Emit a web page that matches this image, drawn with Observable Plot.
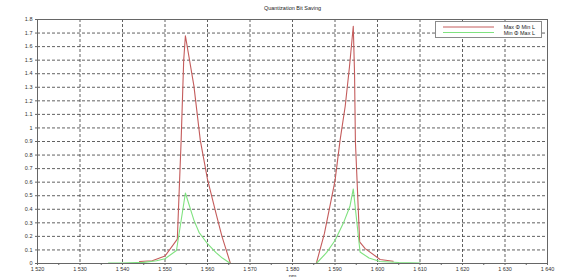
<!DOCTYPE html>
<html><head><meta charset="utf-8">
<script src="https://cdn.jsdelivr.net/npm/d3@7"></script>
<script src="https://cdn.jsdelivr.net/npm/@observablehq/plot@0.6"></script>
<style>
body{margin:0;background:#fff;}
#wrap{position:relative;width:566px;height:277px;overflow:hidden;font-family:"Liberation Sans",Arial,sans-serif;}
#legend{position:absolute;left:435px;top:21px;width:107px;height:17px;border:1px solid #8a8a8a;background:#fff;box-sizing:border-box;}
</style></head>
<body><div id="wrap"><div id="legend"></div></div>
<script>
const title = "Quantization Bit Saving";
const xLabel = "nm";
const seriesNames = ["Max Φ Min L", "Min Φ Max L"];
const seriesColors = ["#c45c5c", "#7fe27f"];

// Series 1 (Max Φ Min L): two peaks
const red1Wl = [1544, 1547, 1550, 1552.9, 1553.8, 1554.4, 1554.8, 1556.8, 1558.3, 1560, 1562, 1563.4, 1565.4];
const red1V  = [0.015, 0.02, 0.055, 0.18, 0.91, 1.5, 1.68, 1.31, 0.91, 0.62, 0.37, 0.2, 0];
const red2Wl = [1585.6, 1587.5, 1590, 1591.2, 1592.4, 1593.4, 1594.3, 1594.6, 1594.8, 1595.8, 1597.1, 1600.6, 1603.7];
const red2V  = [0, 0.22, 0.61, 0.91, 1.16, 1.45, 1.75, 1.4, 0.9, 0.16, 0.11, 0.03, 0.017];

// Series 2 (Min Φ Max L)
const green1Wl = [1536.7, 1540, 1545, 1548, 1550, 1552.7, 1554.8, 1556.8, 1558, 1560, 1562, 1563.5, 1565.4];
const green1V  = [0.003, 0.004, 0.008, 0.02, 0.035, 0.096, 0.52, 0.32, 0.23, 0.146, 0.08, 0.04, 0];
const green2Wl = [1585.6, 1588, 1590, 1592, 1593.5, 1594.3, 1595.9, 1598, 1600.6, 1605, 1610];
const green2V  = [0, 0.08, 0.17, 0.30, 0.42, 0.55, 0.085, 0.04, 0.015, 0.007, 0.004];

const xTicks = d3.range(1520, 1641, 10);
const xMinor = d3.range(1525, 1640, 10);
const yTicks = d3.range(0, 19).map(i => i / 10);

const fmtX = d3.formatLocale({decimal: ".", thousands: " ", grouping: [3], currency: ["", ""]}).format(",");
const fmtY = d => String(+d.toFixed(1));

function seg(wl, v, series, part) {
  return wl.map((x, i) => ({x, y: v[i], series, z: series + part}));
}
const data = [
  ...seg(red1Wl, red1V, seriesNames[0], "a"),
  ...seg(red2Wl, red2V, seriesNames[0], "b"),
  ...seg(green1Wl, green1V, seriesNames[1], "a"),
  ...seg(green2Wl, green2V, seriesNames[1], "b")
];

const chart = Plot.plot({
  width: 566, height: 277,
  marginLeft: 37, marginRight: 19, marginTop: 19, marginBottom: 14,
  style: {fontFamily: "Liberation Sans, Arial, sans-serif", fontSize: "5.5px", color: "#333", background: "#fff"},
  x: {domain: [1520, 1640]},
  y: {domain: [0, 1.8]},
  color: {domain: seriesNames, range: seriesColors},
  marks: [
    Plot.gridX(xTicks, {stroke: "#3a3a3a", strokeOpacity: 1, strokeDasharray: "3,2", strokeWidth: 0.8}),
    Plot.gridY(yTicks, {stroke: "#3a3a3a", strokeOpacity: 1, strokeDasharray: "3,2", strokeWidth: 0.8}),
    Plot.line(data, {x: "x", y: "y", z: "z", stroke: "series", strokeWidth: 1.1}),
    Plot.frame({stroke: "#666"}),
    Plot.axisX(xTicks, {tickFormat: fmtX, tickSize: 2, tickPadding: 2, label: null, stroke: "#666"}),
    Plot.axisX(xMinor, {tickFormat: null, text: null, tickSize: 2, label: null, stroke: "#666"}),
    Plot.axisY(yTicks, {tickFormat: fmtY, tickSize: 2, tickPadding: 3, label: null, stroke: "#666"}),
    Plot.text([title], {frameAnchor: "top", dy: -13, fontSize: 5.5, fill: "#222"}),
    Plot.text([xLabel], {frameAnchor: "bottom", dy: 14, fontSize: 5.5, fill: "#222"})
  ]
});
const wrap = document.getElementById("wrap");
wrap.insertBefore(chart, wrap.firstChild);

// legend
const leg = d3.select("#legend").append("svg").attr("width", 105).attr("height", 15)
  .style("font-family", "Liberation Sans, Arial, sans-serif").style("font-size", "5.5px");
seriesNames.forEach((name, i) => {
  const y = 5 + i * 5.5;
  leg.append("line").attr("x1", 7).attr("x2", 58).attr("y1", y).attr("y2", y)
    .attr("stroke", seriesColors[i]).attr("stroke-width", 1);
  leg.append("text").attr("x", 99).attr("y", y + 2).attr("text-anchor", "end").attr("fill", "#222").text(name);
});
</script>
</body></html>
